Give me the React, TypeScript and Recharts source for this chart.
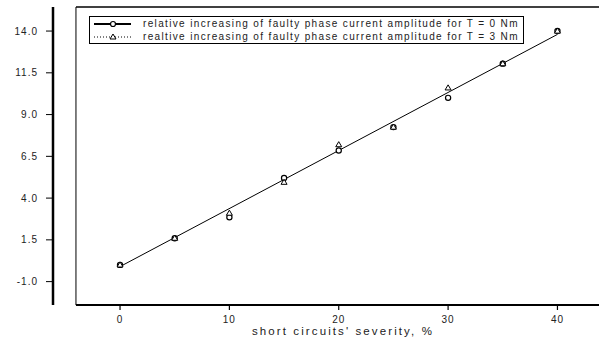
import React from 'react';
import { ComposedChart, Scatter, XAxis, YAxis, ReferenceLine } from 'recharts';

const severity = [0, 5, 10, 15, 20, 25, 30, 35, 40];
const ampT0 = [0.0, 1.6, 2.85, 5.2, 6.85, 8.25, 10.0, 12.05, 14.0];
const ampT3 = [0.0, 1.6, 3.1, 4.95, 7.2, 8.25, 10.6, 12.05, 14.0];
const fitX = [0, 40];
const fitY = [-0.1, 13.8];
const yTicks = [-1.0, 1.5, 4.0, 6.5, 9.0, 11.5, 14.0];
const xTicks = [0, 10, 20, 30, 40];
const legendLabels = [
  'relative increasing of faulty phase current amplitude for T = 0 Nm',
  'realtive increasing of faulty phase current amplitude for T = 3 Nm',
];

const dataT0 = severity.map((x, i) => ({ x, y: ampT0[i] }));
const dataT3 = severity.map((x, i) => ({ x, y: ampT3[i] }));
const dataFit = fitX.map((x, i) => ({ x, y: fitY[i] }));

const FONT = 'Arial, "Liberation Sans", Helvetica, sans-serif';

const CircleShape = (props: any) => {
  const { cx, cy } = props;
  if (cx == null || cy == null) return null;
  return <circle cx={cx} cy={cy} r={2.6} fill="#fff" stroke="#000" strokeWidth={1.2} />;
};

const TriangleShape = (props: any) => {
  const { cx, cy } = props;
  if (cx == null || cy == null) return null;
  const s = 3;
  return (
    <polygon
      points={`${cx},${cy - s} ${cx - s},${cy + s * 0.7} ${cx + s},${cy + s * 0.7}`}
      fill="#fff"
      stroke="#000"
      strokeWidth={1}
    />
  );
};

const NoShape = () => null;

const LegendBox = () => (
  <div
    style={{
      position: 'absolute',
      left: 89,
      top: 16,
      border: '1px solid #000',
      width: 433,
      height: 26,
      background: '#fff',
      fontFamily: FONT,
      fontSize: 10,
      letterSpacing: 1.35,
      color: '#222',
      boxSizing: 'content-box',
      lineHeight: '12px',
    }}
  >
    {legendLabels.map((label, i) => (
      <div key={i} style={{ display: 'flex', alignItems: 'center', height: 12.5, marginTop: i === 0 ? 1 : 0 }}>
        <svg width={48} height={12} style={{ flex: 'none' }}>
          {i === 0 ? (
            <>
              <line x1={4} y1={6} x2={41} y2={6} stroke="#000" strokeWidth={2} />
              <circle cx={23} cy={6} r={2.5} fill="#fff" stroke="#000" strokeWidth={1.2} />
            </>
          ) : (
            <>
              <line x1={4} y1={6} x2={41} y2={6} stroke="#000" strokeWidth={1} strokeDasharray="1 2" />
              <polygon points="23,3 20,8 26,8" fill="#fff" stroke="#000" strokeWidth={1} />
            </>
          )}
        </svg>
        <span style={{ marginLeft: 5, whiteSpace: 'nowrap' }}>{label}</span>
      </div>
    ))}
  </div>
);

export default function App() {
  return (
    <div style={{ position: 'absolute', left: 0, top: 0, width: 599, height: 338, background: '#fff' }}>
      <ComposedChart width={599} height={338} margin={{ top: 7, right: 0, bottom: 0, left: 0 }}>
        <XAxis
          type="number"
          dataKey="x"
          domain={[-6.13, 43.8]}
          ticks={xTicks}
          allowDataOverflow
          axisLine={false}
          tickLine={{ stroke: '#000', strokeWidth: 1.2 }}
          tickSize={5}
          tickMargin={6}
          height={33}
          tick={{ fill: '#222', fontSize: 10, fontFamily: FONT, letterSpacing: 1 }}
          label={{
            value: "short circuits' severity, %",
            position: 'insideBottom',
            offset: 3,
            dx: 17,
            fill: '#222',
            fontSize: 11.5,
            fontFamily: FONT,
            letterSpacing: 2.1,
          }}
        />
        <YAxis
          type="number"
          dataKey="y"
          domain={[-2.4, 15.44]}
          ticks={yTicks}
          allowDataOverflow
          width={53}
          axisLine={{ stroke: '#000', strokeWidth: 2.5 }}
          tickLine={{ stroke: '#000', strokeWidth: 1 }}
          tickSize={7}
          tickMargin={8}
          tickFormatter={(v: number) => v.toFixed(1)}
          tick={{ fill: '#222', fontSize: 10, fontFamily: FONT, letterSpacing: 1 }}
        />
        <ReferenceLine
          segment={[{ x: -4.03, y: -2.4 }, { x: -4.03, y: 15.44 }]}
          stroke="#000"
          strokeWidth={1}
          ifOverflow="visible"
        />
        <ReferenceLine
          segment={[{ x: -4.03, y: -2.4 }, { x: 43.8, y: -2.4 }]}
          stroke="#000"
          strokeWidth={2}
          ifOverflow="visible"
        />
        <ReferenceLine
          segment={[{ x: -4.03, y: 15.44 }, { x: 43.8, y: 15.44 }]}
          stroke="#000"
          strokeWidth={1.5}
          ifOverflow="visible"
        />
        <Scatter
          name="fit"
          data={dataFit}
          line={{ stroke: '#000', strokeWidth: 1 }}
          shape={NoShape}
          isAnimationActive={false}
        />
        <Scatter name={legendLabels[0]} data={dataT0} shape={CircleShape} isAnimationActive={false} />
        <Scatter name={legendLabels[1]} data={dataT3} shape={TriangleShape} isAnimationActive={false} />
      </ComposedChart>
      <LegendBox />
    </div>
  );
}
